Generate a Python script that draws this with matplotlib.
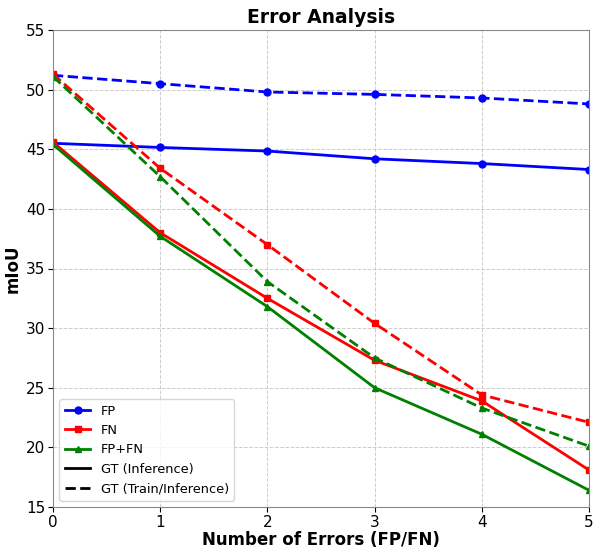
import numpy as np
import matplotlib.pyplot as plt
from matplotlib.lines import Line2D

# --- Data ---
errors = [0, 1, 2, 3, 4, 5]

fp_inf = [45.5, 45.15, 44.85, 44.2, 43.8, 43.3]
fn_inf = [45.6, 38.0, 32.5, 27.3, 23.9, 18.1]
fpfn_inf = [45.4, 37.7, 31.8, 25.0, 21.1, 16.4]

fp_train = [51.2, 50.5, 49.8, 49.6, 49.3, 48.8]
fn_train = [51.3, 43.4, 37.0, 30.4, 24.4, 22.1]
fpfn_train = [51.1, 42.7, 33.9, 27.5, 23.3, 20.1]

fig = plt.figure(figsize=(5.94, 5.52), dpi=100)
ax = fig.add_subplot(111)
fig.subplots_adjust(left=53/594, right=589/594, top=1-30/552, bottom=1-507/552)

# GT (Inference) - solid
ax.plot(errors, fp_inf, color='blue', marker='o', markersize=5, linewidth=2, linestyle='-')
ax.plot(errors, fn_inf, color='red', marker='s', markersize=5, linewidth=2, linestyle='-')
ax.plot(errors, fpfn_inf, color='green', marker='^', markersize=5, linewidth=2, linestyle='-')

# GT (Train/Inference) - dashed
ax.plot(errors, fp_train, color='blue', marker='o', markersize=5, linewidth=2, linestyle='--')
ax.plot(errors, fn_train, color='red', marker='s', markersize=5, linewidth=2, linestyle='--')
ax.plot(errors, fpfn_train, color='green', marker='^', markersize=5, linewidth=2, linestyle='--')

ax.set_xlim(0, 5)
ax.set_ylim(15, 55)
ax.grid(True, linestyle='--', color='#cccccc', linewidth=0.7)
ax.tick_params(labelsize=11, pad=2)
for s in ax.spines.values():
    s.set_color('#888888')

ax.set_title("Error Analysis", fontsize=13.5, fontweight='bold', pad=5)
ax.set_xlabel("Number of Errors (FP/FN)", fontsize=12, fontweight='bold', labelpad=1)
ax.set_ylabel("mIoU", fontsize=12, fontweight='bold', labelpad=3)

handles = [
    Line2D([], [], color='blue', marker='o', markersize=5, linewidth=2),
    Line2D([], [], color='red', marker='s', markersize=5, linewidth=2),
    Line2D([], [], color='green', marker='^', markersize=5, linewidth=2),
    Line2D([], [], color='black', linewidth=2, linestyle='-'),
    Line2D([], [], color='black', linewidth=2, linestyle='--'),
]
labels = ["FP", "FN", "FP+FN", "GT (Inference)", "GT (Train/Inference)"]
ax.legend(handles, labels, loc='lower left', fontsize=9.3)

plt.savefig("out.png", dpi=100)
